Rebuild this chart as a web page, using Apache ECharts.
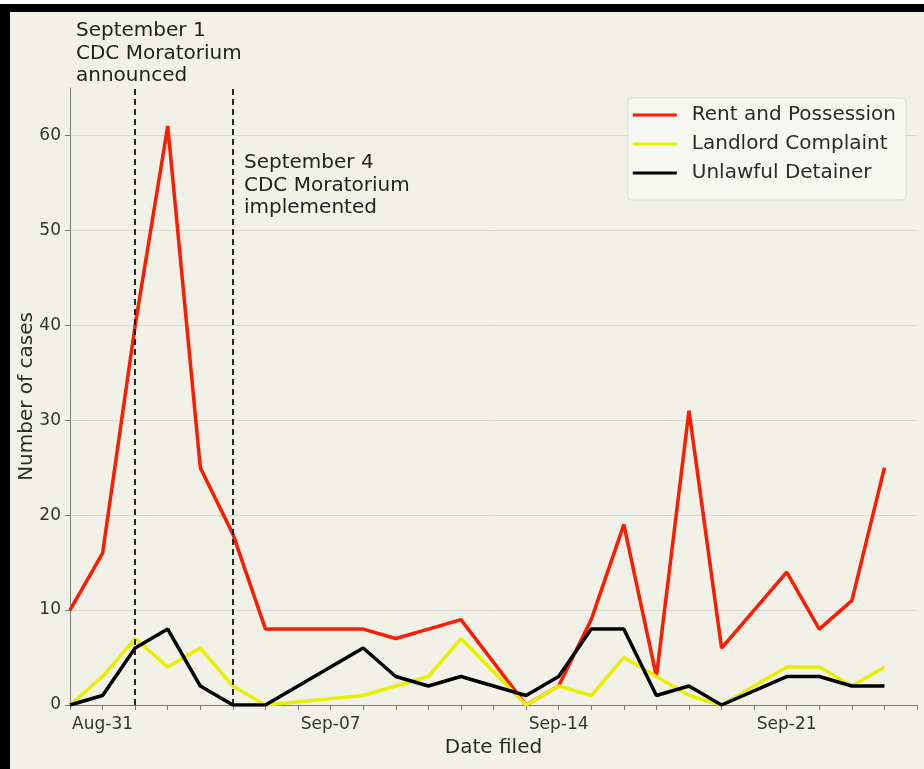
<!DOCTYPE html>
<html>
<head>
<meta charset="utf-8">
<script src="https://cdn.jsdelivr.net/npm/echarts@6/dist/echarts.min.js"></script>
<style>
html,body{margin:0;padding:0;background:#ffffff;}
#frame{position:absolute;left:0;top:4px;width:924px;height:765px;background:#000;}
#chart{position:absolute;left:10px;top:12px;width:914px;height:757px;background:#f2f1e8;}
</style>
</head>
<body>
<div id="frame"></div>
<div id="chart"></div>
<script>
const dates = ['Aug-30','Aug-31','Sep-01','Sep-02','Sep-03','Sep-04','Sep-05','Sep-06','Sep-07','Sep-08','Sep-09','Sep-10','Sep-11','Sep-12','Sep-13','Sep-14','Sep-15','Sep-16','Sep-17','Sep-18','Sep-19','Sep-20','Sep-21','Sep-22','Sep-23','Sep-24','Sep-25'];
const xTickLabels = ['Aug-31','Sep-07','Sep-14','Sep-21'];
const yTicks = [0,10,20,30,40,50,60];
const rentPossession = [10,16,40,61,25,18,8,null,null,8,7,8,9,null,0,2,9,19,3,31,6,null,14,8,11,25];
const landlordComplaint = [0,3,7,4,6,2,0,null,null,1,2,3,7,null,0,2,1,5,3,1,0,null,4,4,2,4];
const unlawfulDetainer = [0,1,6,8,2,0,0,null,null,6,3,2,3,null,1,3,8,8,1,2,0,null,3,3,2,2];
const eventDates = ['Sep-01','Sep-04'];
const seriesNames = ['Rent and Possession','Landlord Complaint','Unlawful Detainer'];

const FONT = '"DejaVu Sans", sans-serif';
const chart = echarts.init(document.getElementById('chart'), null, {renderer:'canvas'});

const option = {
  backgroundColor: '#f2f1e8',
  animation: false,
  textStyle: {fontFamily: FONT},
  grid: {left: 60, right: 7, top: 76, bottom: 64, containLabel: false, outerBoundsMode: 'none'},
  legend: {
    orient: 'vertical',
    right: 18, top: 86,
    icon: 'rect',
    itemWidth: 44, itemHeight: 3, itemGap: 9,
    padding: [7, 10, 17, 5],
    backgroundColor: '#f7f7f2',
    borderColor: '#dcdcd6', borderWidth: 1, borderRadius: 4,
    textStyle: {fontFamily: FONT, fontSize: 20, color: '#2a2a2a', padding: [0,0,0,10]},
    data: seriesNames
  },
  xAxis: {
    type: 'category',
    data: dates,
    boundaryGap: false,
    name: 'Date filed',
    nameLocation: 'middle',
    nameGap: 31,
    nameTextStyle: {fontFamily: FONT, fontSize: 20, color: '#2a2a2a'},
    axisLine: {lineStyle: {color: '#7a7a7a', width: 1}},
    axisTick: {show: true, interval: 0, length: 5, lineStyle: {color: '#7a7a7a'}},
    axisLabel: {
      interval: function (i, v) { return xTickLabels.indexOf(v) >= 0; },
      fontFamily: FONT, fontSize: 17, color: '#333', margin: 11
    },
    splitLine: {show: false}
  },
  yAxis: {
    type: 'value',
    min: 0, max: 65, interval: 10,
    name: 'Number of cases',
    nameLocation: 'middle',
    nameGap: 33,
    nameMoveOverlap: false,
    nameTextStyle: {fontFamily: FONT, fontSize: 20, color: '#2a2a2a'},
    axisLine: {show: true, lineStyle: {color: '#7a7a7a', width: 1}},
    axisTick: {show: true, length: 5, lineStyle: {color: '#7a7a7a'}, customValues: yTicks},
    axisLabel: {fontFamily: FONT, fontSize: 17, color: '#333', margin: 9, customValues: yTicks},
    splitLine: {show: true, lineStyle: {color: '#d9d9d2', width: 1}}
  },
  graphic: [
    {type: 'text', left: 66, top: 8, style: {text: 'September 1\nCDC Moratorium\nannounced', font: '20px ' + FONT, fill: '#222', lineHeight: 22.5}},
    {type: 'text', left: 234, top: 140, style: {text: 'September 4\nCDC Moratorium\nimplemented', font: '20px ' + FONT, fill: '#222', lineHeight: 22.5}}
  ],
  series: [
    {
      name: seriesNames[0], type: 'line', data: rentPossession, connectNulls: true,
      symbol: 'none', lineStyle: {color: '#ff1a00', width: 3.5}, itemStyle: {color: '#ff1a00'}, z: 2,
      markLine: {
        silent: true, symbol: 'none', label: {show: false},
        lineStyle: {color: '#111', type: [6, 4], width: 1.8},
        data: eventDates.map(d => ({xAxis: d}))
      }
    },
    {
      name: seriesNames[1], type: 'line', data: landlordComplaint, connectNulls: true,
      symbol: 'none', lineStyle: {color: '#e6f000', width: 3.5}, itemStyle: {color: '#e6f000'}, z: 3
    },
    {
      name: seriesNames[2], type: 'line', data: unlawfulDetainer, connectNulls: true,
      symbol: 'none', lineStyle: {color: '#000000', width: 3.5}, itemStyle: {color: '#000000'}, z: 4
    }
  ]
};
chart.setOption(option);
</script>
</body>
</html>
